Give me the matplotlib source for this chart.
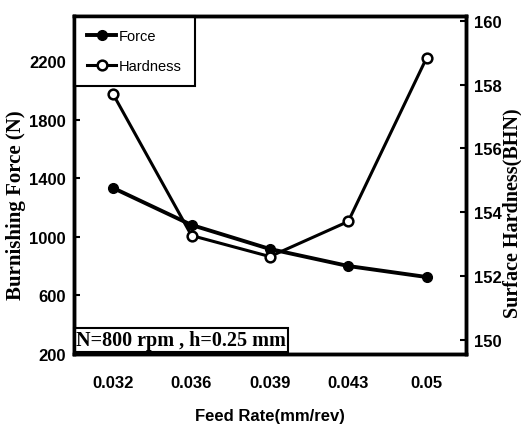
import matplotlib
matplotlib.use("Agg")
import matplotlib.pyplot as plt

# feed rate levels and measured responses
feed_rates = ["0.032", "0.036", "0.039", "0.043", "0.05"]
force = [1333, 1081, 917, 801, 726]
hardness = [157.70, 153.27, 152.61, 153.71, 158.84]

force_ticks = [200, 600, 1000, 1400, 1800, 2200]
hardness_ticks = [150, 152, 154, 156, 158, 160]

sans = ["Liberation Sans", "DejaVu Sans"]
serif = ["Liberation Serif", "DejaVu Serif"]

fig = plt.figure(figsize=(5.21, 4.39), dpi=100)
ax = fig.add_axes([0.142, 0.191, 0.752, 0.770])
ax2 = ax.twinx()

x = range(len(feed_rates))
l1, = ax.plot(x, force, color="black", lw=2.8, marker="o", ms=7,
              mfc="black", mec="black", label="Force")
l2, = ax2.plot(x, hardness, color="black", lw=2.2, marker="o", ms=7,
               mfc="white", mec="black", mew=1.8, label="Hardness")

ax.set_xlim(-0.5, len(feed_rates) - 0.5)
ax.set_ylim(200, 2505)
ax2.set_ylim(149.55, 160.15)

ax.set_xticks(list(x))
ax.set_xticklabels(feed_rates)
ax.set_yticks(force_ticks)
ax2.set_yticks(hardness_ticks)

for a in (ax, ax2):
    for s in a.spines.values():
        s.set_linewidth(2.5)
    a.tick_params(direction="in", length=4, width=1.5, pad=6)
    for lab in a.get_xticklabels() + a.get_yticklabels():
        lab.set_family(sans)
        lab.set_fontsize(12)
        lab.set_fontweight("bold")
ax.tick_params(axis="x", length=0, pad=15)

ax.set_xlabel("Feed Rate(mm/rev)", family=sans, fontsize=12,
              fontweight="bold", labelpad=13)
ax.set_ylabel("Burnishing Force (N)", family=serif, fontsize=15,
              fontweight="bold")
ax.yaxis.set_label_coords(-0.122, 0.445)
ax2.set_ylabel("Surface Hardness(BHN)", family=serif, fontsize=14.5,
               fontweight="bold")
ax2.yaxis.set_label_coords(1.093, 0.42)

leg = ax.legend(handles=[l1, l2], loc="upper left", fancybox=False,
                framealpha=1, borderaxespad=0, handlelength=2.0,
                handletextpad=0.2, labelspacing=1.1, borderpad=0.9,
                prop={"family": sans, "size": 10.5})
leg.get_frame().set_edgecolor("black")
leg.get_frame().set_linewidth(1.5)

ax.text(0.005, 0.012, "N=800 rpm , h=0.25 mm", transform=ax.transAxes,
        family=serif, fontsize=14.5, fontweight="bold", va="bottom",
        bbox=dict(boxstyle="square,pad=0.1", fc="white", ec="black", lw=1.5))

fig.savefig("out.png", dpi=100)
